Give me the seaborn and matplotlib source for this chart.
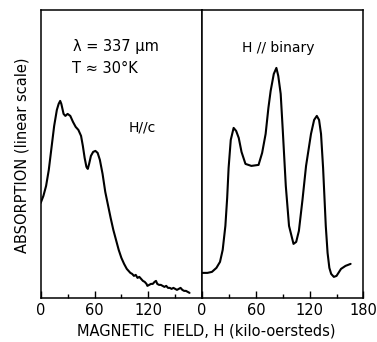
import numpy as np
import pandas as pd
import matplotlib.pyplot as plt
from matplotlib.ticker import MultipleLocator
import seaborn as sns

# H // c panel (field in kOe, absorption in arbitrary units)
h_c = [0, 3, 6, 9, 12, 15, 18, 20, 21.7, 23, 25.5, 27.5, 30, 33, 36, 39, 42, 45,
       47, 49, 51, 52.5, 54, 56, 58.5, 61, 63.5, 66, 69, 72, 75, 78, 81, 84, 87,
       90, 93, 96, 98, 100, 102, 104, 106, 108, 110, 112, 114, 116, 118, 119,
       121, 123, 125, 127, 128.6, 130, 132, 134, 136, 138, 140, 142, 144, 146,
       148, 150, 152, 154, 156, 158, 160, 162, 164, 166]
abs_c = [95, 102, 112, 128, 150, 172, 188, 194, 197, 194, 184, 182, 184, 182,
         176, 171, 168, 162, 152, 140, 131, 129, 134, 142, 146, 147, 145, 138,
         124, 106, 93, 80, 68, 58, 48, 40, 34, 29, 27, 25, 24, 22, 23, 20, 21,
         19, 17, 16, 14, 12, 13, 14, 14, 16, 17, 14, 13, 13, 12, 11, 12, 10, 10,
         9, 10, 9, 8, 9, 10, 8, 7, 7, 6, 5]

# H // binary panel
h_bin = [0, 6, 11, 16, 20, 23, 26, 28, 29.6, 32, 35.2, 38, 40.9, 44, 48.4, 55,
         63, 67, 70.9, 74, 76.5, 80, 82.9, 85, 87.7, 90, 93.4, 97, 102, 105,
         108, 112, 116, 121.5, 125, 128, 130.5, 132.7, 135, 138, 140, 142, 144,
         147, 150, 155, 160, 165.7]
abs_bin = [25, 25, 26, 30, 36, 48, 72, 100, 130, 158, 170, 167, 160, 146, 134,
           132, 133, 145, 164, 190, 207, 224, 230, 222, 204, 168, 112, 72, 54,
           56, 67, 98, 132, 164, 178, 182, 178, 164, 130, 72, 45, 30, 24, 21, 22,
           29, 32, 34]

xticks = [0, 60, 120, 180]
left_labels = ["0", "60", "120", ""]
right_labels = ["0", "60", "120", "180"]

sns.set_style("ticks")
plt.rcParams["font.family"] = ["DejaVu Sans"]
plt.rcParams["text.color"] = "black"
plt.rcParams["xtick.color"] = "black"
plt.rcParams["axes.edgecolor"] = "black"

fig = plt.figure(figsize=(3.77, 3.42), dpi=100)
ax1 = fig.add_axes([0.108, 0.129, 0.428, 0.842])
ax2 = fig.add_axes([0.536, 0.129, 0.428, 0.842])

df_c = pd.DataFrame({"H": h_c, "A": abs_c})
df_b = pd.DataFrame({"H": h_bin, "A": abs_bin})
sns.lineplot(data=df_c, x="H", y="A", ax=ax1, color="black", linewidth=1.5,
             sort=False)
sns.lineplot(data=df_b, x="H", y="A", ax=ax2, color="black", linewidth=1.5,
             sort=False)

for ax, labels in [(ax1, left_labels), (ax2, right_labels)]:
    ax.set_xlim(0, 180)
    ax.set_ylim(0, 288)
    ax.set_xticks(xticks)
    ax.set_xticklabels(labels)
    ax.xaxis.set_minor_locator(MultipleLocator(30))
    ax.tick_params(axis="x", which="major", direction="in", length=5,
                   width=1, labelsize=10.5, pad=4, colors="black")
    ax.tick_params(axis="x", which="minor", direction="in", length=3, width=1,
                   colors="black")
    ax.set_yticks([])
    ax.set_xlabel("")
    ax.set_ylabel("")
    for s in ax.spines.values():
        s.set_linewidth(1.1)
        s.set_color("black")

ax1.text(36, 251, "λ = 337 μm", fontsize=10.5, va="center", color="black")
ax1.text(35, 229, "T ≈ 30°K", fontsize=10.5, va="center", color="black")
ax1.text(98, 170, "H//c", fontsize=10, va="center", color="black")
ax2.text(44, 250, "H // binary", fontsize=10, va="center", color="black")

fig.text(0.546, 0.032, "MAGNETIC  FIELD, H (kilo-oersteds)", fontsize=10.5,
         ha="center", va="center", color="black")
fig.text(0.058, 0.547, "ABSORPTION (linear scale)", fontsize=10.5,
         rotation=90, ha="center", va="center", color="black")

fig.savefig("out.png", dpi=100)
